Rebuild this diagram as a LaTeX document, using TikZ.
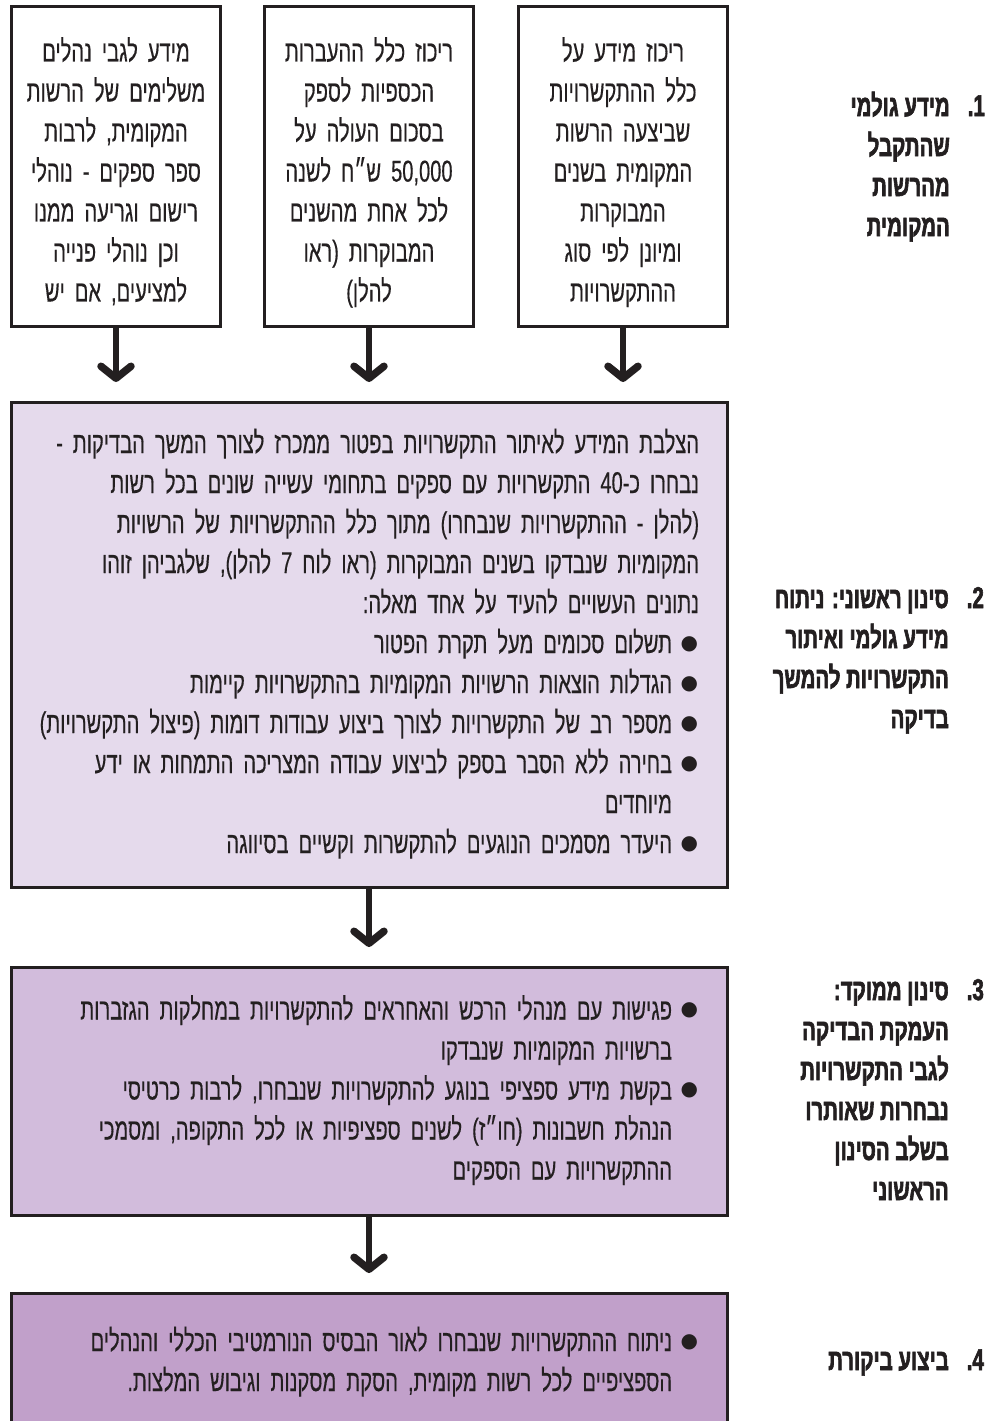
\documentclass[tikz,border=0pt]{standalone}
\usepackage{fontspec}
\usetikzlibrary{positioning, arrows.meta}
\newfontfamily\hebfont[Script=Hebrew, FakeStretch=0.67, FakeBold=0.4]{Liberation Sans}
\newfontfamily\headfont[Script=Hebrew, FakeStretch=0.68, FakeBold=2]{Liberation Sans Bold}
\newfontfamily\dotfont{DejaVu Sans}
\TeXXeTstate=1

\definecolor{inkline}{HTML}{231F20}
\definecolor{palelilac}{HTML}{E5DAEC}
\definecolor{midlilac}{HTML}{D2BCDC}
\definecolor{deeplilac}{HTML}{C1A0CA}

\newcommand{\bodyfont}{\hebfont\fontsize{30pt}{40pt}\selectfont}
\newcommand{\headsize}{\headfont\fontsize{30pt}{40pt}\selectfont}
\newcommand{\dotglyph}{{\dotfont\fontsize{20pt}{20pt}\selectfont ●}}
\newlength{\numwd}\setlength{\numwd}{35pt}
\newlength{\digwd}
\newlength{\dotwd}
\AtBeginDocument{\settowidth{\digwd}{\headsize 1.}\settowidth{\dotwd}{\dotglyph}}

\newcommand{\hebline}[1]{\beginR\strut#1\endR}
\newcommand{\firstline}[1]{\beginR\rule{0pt}{42pt}#1\endR}
\newcommand{\bulline}[1]{\beginR\strut\hspace*{1pt}\raisebox{4pt}{\dotglyph}\hspace{\dimexpr 26pt-\dotwd\relax}#1\endR}
\newcommand{\subline}[1]{\beginR\strut\hspace*{27pt}#1\endR}
\newcommand{\stepno}[1]{#1\kern0pt.\hspace{\dimexpr\numwd-\digwd\relax}}
\newcommand{\hangline}[1]{\beginR\strut\hspace*{\numwd}#1\endR}

\begin{document}
\begin{tikzpicture}[x=1pt, y=-1pt,
    panel/.style={draw=inkline, line width=3pt, text=inkline, font=\bodyfont, inner sep=0pt},
    topbox/.style={panel, fill=white, minimum width=209pt, minimum height=320pt,
                   text width=205pt, align=center},
    widebox/.style={panel, minimum width=716pt, text width=660pt, align=right},
    steplabel/.style={font=\headsize, text=inkline, align=right, inner sep=0pt, anchor=east},
    flow/.style={draw=inkline, line width=6pt, shorten >=19pt,
                 -{Straight Barb[length=12pt, width=30pt, line width=1.5pt 1, round]}}]
    \useasboundingbox (0,0) rectangle (989,1421);
    \clip (0,0) rectangle (989,1421);

    \node[topbox] (contracts) at (623,166.5) {\firstline{ריכוז מידע על}\\ \hebline{כלל ההתקשרויות}\\
          \hebline{שביצעה הרשות}\\ \hebline{המקומית בשנים}\\ \hebline{המבוקרות}\\
          \hebline{ומיונן לפי סוג}\\ \hebline{ההתקשרויות}};
    \node[topbox, left=42pt of contracts] (payments) {\firstline{ריכוז כלל ההעברות}\\
          \hebline{הכספיות לספק}\\ \hebline{בסכום העולה על}\\ \hebline{50,000 ש״ח לשנה}\\
          \hebline{לכל אחת מהשנים}\\ \hebline{המבוקרות (ראו}\\ \hebline{להלן)}};
    \node[topbox, left=41pt of payments] (rules) {\firstline{מידע לגבי נהלים}\\
          \hebline{משלימים של הרשות}\\ \hebline{המקומית, לרבות}\\ \hebline{ספר ספקים - נוהלי}\\
          \hebline{רישום וגריעה ממנו}\\ \hebline{וכן נוהלי פנייה}\\ \hebline{למציעים, אם יש}};

    \node[widebox, fill=palelilac, minimum height=485pt, below=73pt of payments] (screen) {%
          \hebline{הצלבת המידע לאיתור התקשרויות בפטור ממכרז לצורך המשך הבדיקות -}\\
          \hebline{נבחרו כ-40 התקשרויות עם ספקים בתחומי עשייה שונים בכל רשות}\\
          \hebline{(להלן - ההתקשרויות שנבחרו) מתוך כלל ההתקשרויות של הרשויות}\\
          \hebline{המקומיות שנבדקו בשנים המבוקרות (ראו לוח 7 להלן), שלגביהן זוהו}\\
          \hebline{נתונים העשויים להעיד על אחד מאלה:}\\
          \bulline{תשלום סכומים מעל תקרת הפטור}\\
          \bulline{הגדלות הוצאות הרשויות המקומיות בהתקשרויות קיימות}\\
          \bulline{מספר רב של התקשרויות לצורך ביצוע עבודות דומות (פיצול התקשרויות)}\\
          \bulline{בחירה ללא הסבר בספק לביצוע עבודה המצריכה התמחות או ידע}\\
          \subline{מיוחדים}\\
          \bulline{היעדר מסמכים הנוגעים להתקשרות וקשיים בסיווגה}};
    \node[widebox, fill=midlilac, minimum height=248pt, below=77pt of screen] (focus) {%
          \bulline{פגישות עם מנהלי הרכש והאחראים להתקשרויות במחלקות הגזברות}\\
          \subline{ברשויות המקומיות שנבדקו}\\
          \bulline{בקשת מידע ספציפי בנוגע להתקשרויות שנבחרו, לרבות כרטיסי}\\
          \subline{הנהלת חשבונות (חו״ז) לשנים ספציפיות או לכל התקופה, ומסמכי}\\
          \subline{ההתקשרויות עם הספקים}};
    \node[widebox, fill=deeplilac, minimum height=139pt, below=75pt of focus] (audit) {%
          \bulline{ניתוח ההתקשרויות שנבחרו לאור הבסיס הנורמטיבי הכללי והנהלים}\\
          \subline{הספציפיים לכל רשות מקומית, הסקת מסקנות וגיבוש המלצות.}};

    \draw[flow] (rules) -- (rules |- screen.north);
    \draw[flow] (payments) -- (payments |- screen.north);
    \draw[flow] (contracts) -- (contracts |- screen.north);
    \draw[flow] (screen) -- (focus);
    \draw[flow] (focus) -- (audit);

    \node[steplabel] (lblraw) at (985,168) {\hebline{\stepno{1}מידע גולמי}\\ \hangline{שהתקבל}\\
          \hangline{מהרשות}\\ \hangline{המקומית}};
    \node[steplabel] (lblscreen) at (984,660) {\hebline{\stepno{2}סינון ראשוני: ניתוח}\\
          \hangline{מידע גולמי ואיתור}\\ \hangline{התקשרויות להמשך}\\ \hangline{בדיקה}};
    \node[steplabel] (lblfocus) at (984,1092) {\hebline{\stepno{3}סינון ממוקד:}\\
          \hangline{העמקת הבדיקה}\\ \hangline{לגבי התקשרויות}\\ \hangline{נבחרות שאותרו}\\
          \hangline{בשלב הסינון}\\ \hangline{הראשוני}};
    \node[steplabel] (lblaudit) at (984,1362) {\hebline{\stepno{4}ביצוע ביקורת}};
\end{tikzpicture}
\end{document}
